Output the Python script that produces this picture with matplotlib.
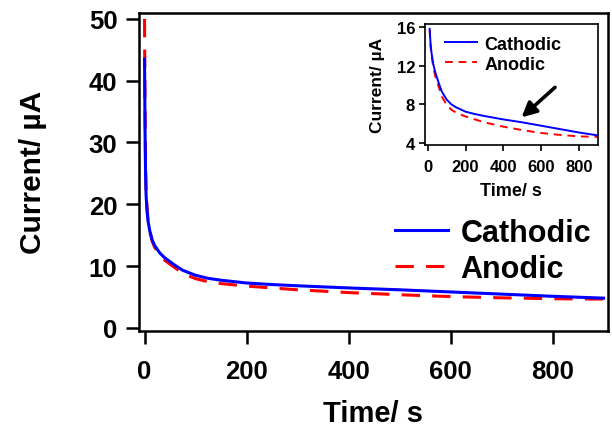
"""
Chronoamperometry curves, cathodic vs anodic, with zoomed inset
"""
import matplotlib
matplotlib.use('Agg')
import matplotlib.pyplot as plt

plt.rcParams['font.family'] = ['Liberation Sans', 'DejaVu Sans']
plt.rcParams['font.weight'] = 'bold'

# Time (s) and current (uA)
time_s = [0, 1, 2, 3, 5, 7, 10, 15, 20, 30, 40, 50, 60, 75, 100, 125, 150, 200,
          250, 300, 400, 500, 600, 700, 800, 900]
cathodic = [43.5, 32.0, 25.0, 21.5, 18.8, 17.2, 15.8, 14.2, 13.3, 12.1, 11.3, 10.7, 10.1, 9.3,
            8.5, 8.0, 7.7, 7.25, 7.0, 6.8, 6.45, 6.15, 5.8, 5.45, 5.1, 4.8]
anodic = [50.0, 35.0, 27.0, 22.5, 19.3, 17.4, 15.7, 14.0, 13.0, 11.8, 10.9, 10.3, 9.7, 8.8,
          7.95, 7.45, 7.15, 6.75, 6.45, 6.15, 5.7, 5.35, 5.05, 4.85, 4.7, 4.65]

main_yticks = [0, 10, 20, 30, 40, 50]
main_xticks = [0, 200, 400, 600, 800]
inset_yticks = [4, 8, 12, 16]
inset_xticks = [0, 200, 400, 600, 800]

fig = plt.figure(figsize=(6.12, 4.31), dpi=100)
ax = fig.add_axes([0.227, 0.23, 0.766, 0.738])

ax.plot(time_s, cathodic, color='#0000ff', linewidth=2.2, label='Cathodic', zorder=3)
ax.plot(time_s, anodic, color='#ff0000', linewidth=2.2, dashes=(6, 4), label='Anodic', zorder=2)

ax.set_xlim(-11, 908)
ax.set_ylim(-0.5, 51)
ax.set_xticks(main_xticks)
ax.set_yticks(main_yticks)
ax.tick_params(direction='out', length=9.5, width=1.8, labelsize=18.5, pad=6)
ax.tick_params(axis='x', pad=11)
for s in ax.spines.values():
    s.set_linewidth(1.8)
ax.set_xlabel('Time/ s', fontsize=21, fontweight='bold', labelpad=11)
ax.set_ylabel('Current/ µA', fontsize=21.5, fontweight='bold', labelpad=30)

ax.legend(loc='center left', bbox_to_anchor=(0.645, 0.415), bbox_transform=fig.transFigure,
          frameon=False, fontsize=22, handlelength=1.75, handletextpad=0.4,
          labelspacing=0.2, borderpad=0, borderaxespad=0)

# Inset
ins = fig.add_axes([0.694, 0.661, 0.283, 0.281])
ins.plot(time_s[6:], cathodic[6:], color='#0000ff', linewidth=1.4, label='Cathodic', zorder=3)
ins.plot(time_s[6:], anodic[6:], color='#ff0000', linewidth=1.4, dashes=(4, 3), label='Anodic', zorder=2)
ins.set_xlim(-16, 900)
ins.set_ylim(3.8, 16.3)
ins.set_xticks(inset_xticks)
ins.set_yticks(inset_yticks)
ins.tick_params(direction='out', length=4, width=1.2, labelsize=12, pad=3)
ins.tick_params(axis='x', pad=6)
for s in ins.spines.values():
    s.set_linewidth(1.2)
ins.set_xlabel('Time/ s', fontsize=13, fontweight='bold', labelpad=6)
ins.set_ylabel('Current/ µA', fontsize=12.5, fontweight='bold', labelpad=8)
ins.legend(loc='center left', bbox_to_anchor=(0.727, 0.872), bbox_transform=fig.transFigure,
           frameon=False, fontsize=13, handlelength=1.8, handletextpad=0.4,
           labelspacing=0.15, borderpad=0, borderaxespad=0)
ins.annotate('', xy=(496, 6.66), xytext=(673, 9.76),
             arrowprops=dict(arrowstyle='-|>', color='black', lw=2.6, mutation_scale=22,
                             shrinkA=0, shrinkB=0))

plt.savefig('out.png', dpi=100, facecolor='white')
